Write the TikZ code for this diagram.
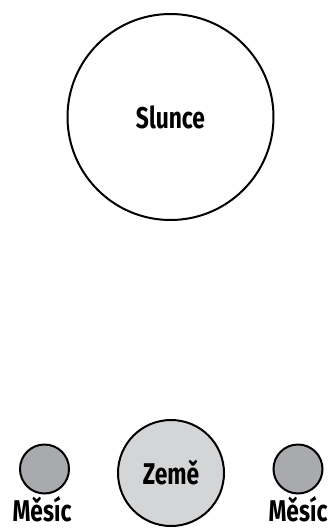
\documentclass[tikz,border=0pt]{standalone}
\usepackage{fontspec}
\setmainfont{Fira Sans}[FakeStretch=0.76]
\usetikzlibrary{positioning}
\definecolor{earthgray}{HTML}{D4D5D7}
\definecolor{moongray}{HTML}{A8AAAD}
\begin{document}
\begin{tikzpicture}[x=1pt, y=-1pt]
  \tikzset{
    sun_node/.style={circle, draw, line width=2pt, fill=white, minimum size=206pt, inner sep=0pt},
    earth_node/.style={circle, draw, line width=2pt, fill=earthgray, minimum size=106pt, inner sep=0pt},
    moon_node/.style={circle, draw, line width=2pt, fill=moongray, minimum size=49pt, inner sep=0pt},
    body_text/.style={font=\fontsize{30}{34}\selectfont\bfseries}
  }
  \useasboundingbox (0,0) rectangle (328,528);

  % Slunce nahoře
  \node[sun_node, body_text] (sun) at (170.5,117) {Slunce};

  % Země a dva Měsíce
  \node[earth_node, body_text] (earth) at (171,473) {Země};
  \node[moon_node] (moon_left) at (44.5,469) {};
  \node[moon_node] (moon_right) at (298,469) {};

  % popisky Měsíců
  \node[body_text, anchor=base, inner sep=0pt] (moon_left_label) at (42,521) {Měsíc};
  \node[body_text, anchor=base, inner sep=0pt] (moon_right_label) at (298,521) {Měsíc};
\end{tikzpicture}
\end{document}
